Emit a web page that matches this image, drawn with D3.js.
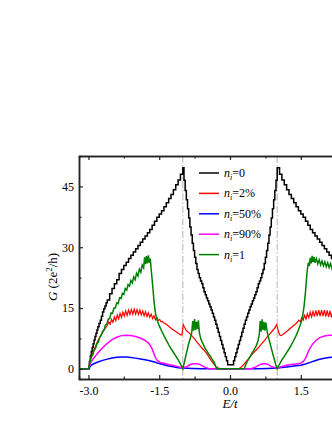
<!DOCTYPE html>
<html>
<head>
<meta charset="utf-8">
<script src="https://cdn.jsdelivr.net/npm/d3@7"></script>
<style>
  body { margin: 0; background: #fff; overflow: hidden; }
  text { font-family: "Liberation Serif", "Times New Roman", serif; fill: #000; }
</style>
</head>
<body>
<div id="chart"></div>
<script>
// ---- data ----
var xTicks = [-3.0, -1.5, 0.0, 1.5, 3.0];
var xMinor = [-2.25, -0.75, 0.75, 2.25];
var yTicks = [0, 15, 30, 45];
var yMinor = [7.5, 22.5, 37.5];
var vLines = [-1, 1];

var labels = ["0", "2%", "50%", "90%", "1"];
var colors = ["#000000", "#ff0000", "#0000ff", "#ff00ff", "#008000"];

// clean case (staircase)
var black = [[-3.2,0],[-3.0,0],[-2.98,1.8],[-2.96,3.2],[-2.94,4.3],[-2.92,5.3],[-2.9,6.2],[-2.88,7.1],
  [-2.86,8],[-2.84,8.8],[-2.82,9.6],[-2.8,10.4],[-2.775,11.2],[-2.75,12],[-2.725,13],[-2.7,14],
  [-2.675,14.8],[-2.65,15.5],[-2.625,16.3],[-2.6,17],[-2.55,18.5],[-2.5,19.8],[-2.45,21],[-2.4,22],
  [-2.35,23.5],[-2.3,24.5],[-2.25,25.5],[-2.2,26.3],[-2.15,27.2],[-2.1,28],[-2.05,28.8],[-2.0,29.6],
  [-1.95,30.4],[-1.9,31.2],[-1.85,32],[-1.8,32.8],[-1.75,33.6],[-1.7,34.4],[-1.65,35.4],[-1.6,36.4],
  [-1.55,37.4],[-1.5,38.2],[-1.45,39],[-1.4,40],[-1.35,41],[-1.3,42],[-1.25,43],[-1.2,44.2],
  [-1.15,45.4],[-1.1,46.6],[-1.05,48],[-1.0,49.6],
  [-0.975,46.5],[-0.95,44],[-0.925,41.7],[-0.9,39.5],[-0.875,37.2],[-0.85,35],[-0.825,33],[-0.8,31],
  [-0.775,29.2],[-0.75,27.5],[-0.725,26],[-0.7,24.5],[-0.675,23.5],[-0.65,22.5],[-0.625,21.7],
  [-0.6,21],[-0.575,20],[-0.55,19],[-0.525,18.3],[-0.5,17.5],[-0.475,16.8],[-0.45,16],[-0.425,15.3],
  [-0.4,14.5],[-0.375,13.7],[-0.35,12.8],[-0.325,12],[-0.3,11],[-0.275,10],[-0.25,9],[-0.225,8],
  [-0.2,7],[-0.175,6],[-0.15,5],[-0.125,4],[-0.1,3],[-0.075,2],[-0.05,1],[0.0,1],
  [0.075,2],[0.1,3],[0.125,4],[0.15,5],[0.175,6],[0.2,7],[0.225,8],[0.25,9],[0.275,10],[0.3,11],
  [0.325,12],[0.35,12.8],[0.375,13.7],[0.4,14.5],[0.425,15.3],[0.45,16],[0.475,16.8],[0.5,17.5],
  [0.525,18.3],[0.55,19],[0.575,20],[0.6,21],[0.625,21.7],[0.65,22.5],[0.675,23.5],[0.7,24.5],
  [0.725,26],[0.75,27.5],[0.775,29.2],[0.8,31],[0.825,33],[0.85,35],[0.875,37.2],[0.9,39.5],
  [0.925,41.7],[0.95,44],[0.975,46.5],[1.0,49.6],
  [1.05,48],[1.1,46.6],[1.15,45.4],[1.2,44.2],[1.25,43],[1.3,42],[1.35,41],[1.4,40],[1.45,39],
  [1.5,38.2],[1.55,37.4],[1.6,36.4],[1.65,35.4],[1.7,34.4],[1.75,33.6],[1.8,32.8],[1.85,32],
  [1.9,31.2],[1.95,30.4],[2.0,29.6],[2.05,28.8],[2.1,28],[2.15,27.2],[2.2,26.3],[2.25,25.5],
  [2.3,24.5],[2.35,23.5],[2.4,22]];

var red = [[-3.2,0],[-3.0,0],[-2.96,2.2],[-2.92,3.6],[-2.88,4.8],[-2.84,5.9],[-2.8,6.9],[-2.75,8],
  [-2.7,9],[-2.65,9.9],[-2.6,10.7],
  [-2.57,11.6],[-2.54,11.0],[-2.51,12.2],[-2.48,11.5],[-2.45,12.8],[-2.42,11.9],[-2.39,13.3],
  [-2.36,12.3],[-2.33,13.7],[-2.30,12.7],[-2.27,14.0],[-2.24,13.0],[-2.21,14.3],[-2.18,13.2],
  [-2.15,14.5],[-2.12,13.4],[-2.09,14.6],[-2.06,13.5],[-2.03,14.7],[-2.00,13.5],[-1.97,14.6],
  [-1.94,13.4],[-1.91,14.5],[-1.88,13.3],[-1.85,14.3],[-1.82,13.1],[-1.79,14.1],[-1.76,12.9],
  [-1.73,13.8],[-1.70,12.7],[-1.67,13.5],[-1.64,12.4],[-1.61,13.1],[-1.58,12.1],[-1.55,12.7],
  [-1.52,11.9],[-1.49,12.2],[-1.46,11.6],[-1.43,11.7],
  [-1.4,11.3],[-1.35,11],[-1.3,10.5],[-1.25,10],[-1.2,9.6],[-1.15,9.2],[-1.1,8.8],[-1.05,8.4],
  [-1.02,8.4],[-0.99,10.9],[-0.96,10.2],[-0.92,9.4],[-0.88,9],[-0.84,8.6],[-0.8,8],[-0.75,7.4],
  [-0.7,6.6],[-0.65,5.9],[-0.6,5.2],[-0.55,4.6],[-0.5,3.9],[-0.45,3],[-0.4,2.1],[-0.35,1.3],
  [-0.3,0.6],[-0.25,0.2],[-0.22,0],[0.18,0],[0.22,0.3],[0.26,0.7],[0.3,1.2],[0.35,1.9],[0.4,2.6],
  [0.45,3.3],[0.5,4],[0.55,4.6],[0.6,5.2],[0.65,5.9],[0.7,6.6],[0.75,7.3],[0.8,8],[0.85,8.7],
  [0.9,9.4],[0.95,10.1],[0.99,10.9],[1.02,9.5],[1.05,8.4],[1.08,8.2],[1.12,8.5],[1.2,9.2],
  [1.3,10.2],[1.4,11.2],
  [1.46,12.0],[1.49,11.6],[1.52,12.6],[1.55,12.0],[1.58,13.2],[1.61,12.3],[1.64,13.6],[1.67,12.6],
  [1.70,14.0],[1.73,12.8],[1.76,14.2],[1.79,12.9],[1.82,14.4],[1.85,13.0],[1.88,14.5],[1.91,13.0],
  [1.94,14.5],[1.97,13.0],[2.00,14.5],[2.03,12.9],[2.06,14.4],[2.09,12.8],[2.12,14.3],[2.15,12.7],
  [2.18,14.2],[2.21,12.6],[2.24,14.0],[2.27,12.5],[2.30,13.8],[2.33,12.4],[2.36,13.6],[2.39,12.3]];

var blue = [[-3.2,0],[-3.0,0],[-2.95,0.8],[-2.9,1.2],[-2.8,1.7],[-2.7,2.1],[-2.6,2.4],[-2.5,2.7],
  [-2.4,2.85],[-2.3,2.95],[-2.2,2.9],[-2.1,2.8],[-2.0,2.65],[-1.9,2.45],[-1.8,2.25],[-1.7,2.0],
  [-1.6,1.7],[-1.5,1.3],[-1.4,1.0],[-1.3,0.7],[-1.2,0.5],[-1.1,0.3],[-1.0,0.2],[-0.8,0.1],
  [-0.6,0],[0.6,0],[0.8,0.1],[1.0,0.2],[1.2,0.45],[1.4,0.75],[1.5,0.9],[1.6,1.2],[1.7,1.6],
  [1.8,2.0],[1.9,2.35],[2.0,2.6],[2.1,2.8],[2.2,2.9],[2.3,2.95],[2.4,2.95]];

var magenta = [[-3.2,0],[-3.0,0],[-2.95,1.6],[-2.9,2.5],[-2.8,3.9],[-2.7,5.2],[-2.6,6.3],[-2.5,7.2],
  [-2.4,7.8],[-2.3,8.2],[-2.2,8.3],[-2.1,8.25],[-2.0,8.0],[-1.9,7.6],[-1.8,7.0],[-1.72,6.3],
  [-1.66,5.2],[-1.62,4.0],[-1.58,2.8],[-1.54,2.0],[-1.48,1.6],[-1.4,1.4],[-1.3,1.1],[-1.2,0.85],
  [-1.1,0.55],[-1.0,0.2],[-0.92,0.5],[-0.85,1.0],[-0.78,1.25],[-0.7,1.25],[-0.64,1.1],[-0.55,0.5],
  [-0.46,0.1],[-0.4,0],[0.4,0],[0.46,0.1],[0.55,0.5],[0.64,1.1],[0.72,1.3],[0.8,1.15],[0.87,0.6],
  [1.0,0.15],[1.1,0.6],[1.2,0.9],[1.3,1.05],[1.4,1.2],[1.5,1.4],[1.56,1.9],[1.61,2.8],[1.65,4.0],
  [1.7,5.2],[1.75,6.1],[1.82,7.0],[1.9,7.7],[2.0,8.1],[2.1,8.3],[2.2,8.3],[2.3,8.2],[2.4,8.1]];

var green = [[-3.2,0],[-3.0,0],[-2.97,1.5],[-2.94,3.0],[-2.91,3.4],[-2.88,4.6],[-2.85,5.0],[-2.82,6.2],
  [-2.79,6.6],[-2.76,7.8],[-2.73,8.2],[-2.7,9.3],[-2.67,9.6],[-2.64,10.8],[-2.61,11.0],[-2.58,12.3],
  [-2.55,12.4],[-2.52,13.8],[-2.49,13.7],[-2.46,15.0],[-2.43,15.0],[-2.40,16.3],[-2.37,16.1],
  [-2.34,17.5],[-2.31,17.3],[-2.28,18.6],[-2.25,18.4],[-2.22,19.8],[-2.19,19.4],[-2.16,20.8],
  [-2.13,20.4],[-2.10,21.8],[-2.07,21.2],[-2.04,22.7],[-2.01,22.0],[-1.98,23.6],[-1.95,22.9],
  [-1.92,24.6],[-1.89,23.8],[-1.86,25.6],[-1.83,24.9],[-1.81,27.5],[-1.79,25.8],[-1.77,27.8],
  [-1.75,26.0],[-1.73,28.0],[-1.71,26.2],[-1.69,27.2],[-1.67,24.5],[-1.65,22.0],[-1.63,19.4],
  [-1.61,16.5],[-1.58,13.8],[-1.55,12.2],[-1.5,10.6],[-1.45,9.4],[-1.4,8.2],[-1.35,7.1],[-1.3,6.0],
  [-1.25,5.0],[-1.2,4.1],[-1.15,3.2],[-1.1,2.3],[-1.05,1.2],[-1.0,0],[-0.96,2.0],[-0.92,4.0],
  [-0.88,6.0],[-0.84,7.6],[-0.81,9.0],[-0.79,11.8],[-0.77,9.4],[-0.75,12.3],[-0.73,9.6],[-0.71,11.6],
  [-0.69,9.8],[-0.67,12.0],[-0.65,9.0],[-0.62,7.4],[-0.59,6.6],[-0.56,5.9],[-0.53,5.1],[-0.5,4.6],
  [-0.46,3.8],[-0.42,3.2],[-0.38,2.4],[-0.34,1.7],[-0.31,0.8],[-0.28,0],[0.3,0],[0.33,0.9],
  [0.36,1.7],[0.4,2.5],[0.44,3.3],[0.48,4.1],[0.52,4.9],[0.56,5.8],[0.59,6.8],[0.62,8.4],
  [0.64,11.8],[0.66,9.2],[0.68,12.2],[0.70,9.6],[0.72,11.6],[0.74,9.4],[0.76,11.4],[0.79,9.0],
  [0.82,7.6],[0.86,5.8],[0.9,4.0],[0.94,2.3],[0.97,1.0],[1.0,0],[1.05,1.2],[1.1,2.2],[1.15,3.1],
  [1.2,4.0],[1.25,4.9],[1.3,5.9],[1.35,7.0],[1.4,8.2],[1.45,9.6],[1.5,11.2],[1.54,13.0],[1.57,15.5],
  [1.6,19.0],[1.62,22.0],[1.64,24.6],[1.66,26.2],[1.68,25.4],[1.70,27.4],[1.72,26.0],[1.74,27.9],
  [1.76,26.3],[1.78,27.6],[1.80,26.2],[1.83,27.2],[1.86,25.9],[1.89,26.9],[1.92,25.6],[1.95,26.6],
  [1.98,25.4],[2.01,26.4],[2.04,25.2],[2.07,26.2],[2.10,25.0],[2.13,26.0],[2.16,24.8],[2.19,25.7],
  [2.22,24.6],[2.25,25.4],[2.28,24.4],[2.31,25.1],[2.34,24.2],[2.37,24.9],[2.40,24.0]];

// ---- layout ----
var svgWidth = 332;
var svgHeight = 430;
var margin = { top: 156, left: 79 };
var width = 302;
var height = 223;

var svg = d3.select("#chart")
  .append("svg")
  .attr("width", svgWidth)
  .attr("height", svgHeight);
var chartGroup = svg.append("g")
  .attr("transform", `translate(${margin.left}, ${margin.top})`);

var x = d3.scaleLinear().domain([-3.2, 3.2]).range([0, width]);
var y = d3.scaleLinear().domain([-2.5, 52.5]).range([height, 0]);

chartGroup.append("clipPath").attr("id", "plotClip")
  .append("rect").attr("width", width).attr("height", height);

// dash-dot guides at the van Hove points
chartGroup.selectAll(".vline").data(vLines).enter()
  .append("line")
  .attr("x1", d => x(d)).attr("x2", d => x(d))
  .attr("y1", 0).attr("y2", height)
  .attr("stroke", "#b4b4b4")
  .attr("stroke-width", 1)
  .attr("stroke-dasharray", "7,2,1.5,2");

var plot = chartGroup.append("g").attr("clip-path", "url(#plotClip)");

var line = d3.line().x(d => x(d[0])).y(d => y(d[1]));
var stepLine = d3.line().x(d => x(d[0])).y(d => y(d[1])).curve(d3.curveStepAfter);

var series = [black, red, blue, magenta, green];

series.forEach(function(s, i) {
  plot.append("path")
    .datum(s)
    .attr("fill", "none")
    .attr("stroke", colors[i])
    .attr("stroke-width", i == 1 ? 1.2 : 1.5)
    .attr("d", i == 0 ? stepLine : line);
});

// ---- axes ----
function styleAxis(g) {
  g.selectAll("path.domain").attr("stroke", "#222").attr("stroke-width", 1.5);
  g.selectAll(".tick line").attr("stroke", "#222").attr("stroke-width", 1.2);
  g.selectAll("text").attr("font-family", "Liberation Serif").attr("font-size", 12).attr("fill", "#000");
}

// the 3.0 label falls outside the cropped figure
chartGroup.append("g")
  .attr("transform", `translate(0, ${height})`)
  .call(d3.axisBottom(x).tickValues(xTicks).tickSizeInner(-4).tickSizeOuter(0)
    .tickPadding(7).tickFormat(d => d == 3 ? "" : d.toFixed(1)))
  .call(styleAxis);
chartGroup.append("g")
  .attr("transform", `translate(0, ${height})`)
  .call(d3.axisBottom(x).tickValues(xMinor).tickSize(-2.5).tickFormat(""))
  .call(styleAxis);

chartGroup.append("g")
  .call(d3.axisTop(x).tickValues(xTicks).tickSizeInner(-4).tickSizeOuter(0).tickFormat(""))
  .call(styleAxis);
chartGroup.append("g")
  .call(d3.axisTop(x).tickValues(xMinor).tickSize(-2.5).tickFormat(""))
  .call(styleAxis);

chartGroup.append("g")
  .call(d3.axisLeft(y).tickValues(yTicks).tickSizeInner(-4).tickSizeOuter(0).tickPadding(5))
  .call(styleAxis);
chartGroup.append("g")
  .call(d3.axisLeft(y).tickValues(yMinor).tickSize(-2.5).tickFormat(""))
  .call(styleAxis);

chartGroup.append("g")
  .attr("transform", `translate(${width}, 0)`)
  .call(d3.axisRight(y).tickValues(yTicks).tickSizeInner(-4).tickSizeOuter(0).tickFormat(""))
  .call(styleAxis);

// axis titles
var yTitle = chartGroup.append("text")
  .attr("transform", `translate(-22, ${277 - margin.top}) rotate(-90)`)
  .attr("text-anchor", "middle")
  .attr("font-size", 13);
yTitle.append("tspan").attr("font-style", "italic").text("G");
yTitle.append("tspan").text(" (2e");
yTitle.append("tspan").attr("font-size", 9).attr("dy", -5).text("2");
yTitle.append("tspan").attr("dy", 5).text("/h)");

chartGroup.append("text")
  .attr("x", x(0))
  .attr("y", height + 29)
  .attr("text-anchor", "middle")
  .attr("font-size", 13)
  .attr("font-style", "italic")
  .text("E/t");

// ---- legend ----
var legend = chartGroup.append("g").attr("transform", `translate(${199 - margin.left}, ${173 - margin.top})`);
labels.forEach(function(lab, i) {
  var row = legend.append("g").attr("transform", `translate(0, ${i * 20.4})`);
  row.append("line")
    .attr("x1", 0).attr("x2", 20)
    .attr("y1", 0).attr("y2", 0)
    .attr("stroke", colors[i])
    .attr("stroke-width", 1.5);
  var t = row.append("text")
    .attr("x", 25)
    .attr("y", 4)
    .attr("font-size", 12);
  t.append("tspan").attr("font-style", "italic").text("n");
  t.append("tspan").attr("font-style", "italic").attr("font-size", 8).attr("dy", 3).text("i");
  t.append("tspan").attr("dy", -3).text("=" + lab);
});
</script>
</body>
</html>
